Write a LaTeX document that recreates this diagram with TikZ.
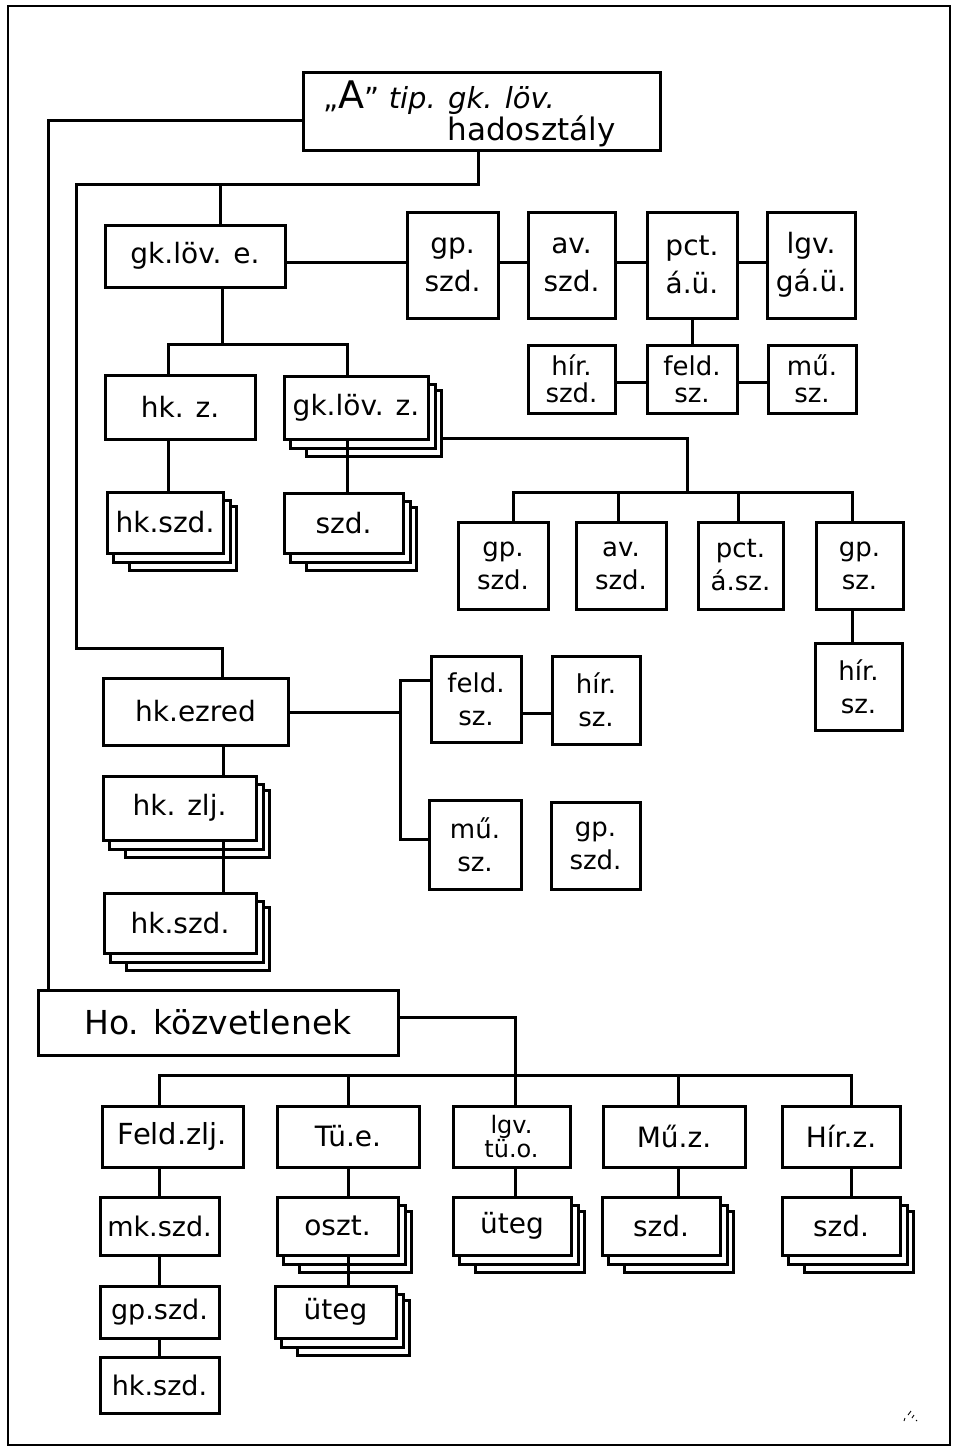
\documentclass[tikz,border=0pt]{standalone}
\usepackage{fontspec}
\setmainfont{DejaVu Sans}
\usetikzlibrary{calc}
\newcommand\hnd{\fontsize{28}{38}\selectfont}
\newcommand\bx[7][]{\node[box,minimum width={(#5)-(#3)},minimum height={(#6)-(#4)},#1] (#2) at ({((#3)+(#5))/2},{((#4)+(#6))/2}) {#7};}
\newcommand\stk[1]{%
 \draw[ln] ($(#1.south west)+(8pt,0pt)$) -- ++(0pt,-8pt) -- ($(#1.south east)+(6pt,-8pt)$) -- ($(#1.north east)+(6pt,-10pt)$) -- ++(-6pt,0pt);
 \draw[ln] ($(#1.south west)+(24pt,-8pt)$) -- ++(0pt,-8pt) -- ($(#1.south east)+(12pt,-16pt)$) -- ($(#1.north east)+(12pt,-16pt)$) -- ++(-6pt,0pt);}
\tikzset{
 ln/.style={line width=3pt, line join=miter},
 box/.style={draw, line width=3pt, inner sep=0pt, fill=white, align=center, font=\hnd},
 tight/.style={font=\fontsize{26}{27}\selectfont},
 mid/.style={font=\fontsize{26}{33}\selectfont},
}
\begin{document}
\begin{tikzpicture}[x=1pt,y=-1pt]
\useasboundingbox (0,0) rectangle (953,1448);
\fill[white] (0,0) rectangle (953,1448);
\draw[line width=2.8pt] (8,6) rectangle (950,1445);

% ---- boxes
\bx{top}{303}{72}{660}{150}{}
\node[anchor=base west, font=\fontsize{29}{34}\selectfont] (t1) at (320,108) {„{\fontsize{38}{38}\selectfont A}” \textit{tip. gk. löv.}};
\node[anchor=base west, font=\fontsize{31}{34}\selectfont] (t2) at (444,140) {hadosztály};

\bx{gklove}{105}{225}{285}{287}{gk.löv. e.}
\bx{gpa}{407}{212}{498}{318}{gp.\\szd.}
\bx{ava}{528}{212}{615}{318}{av.\\szd.}
\bx{pcta}{647}{212}{737}{318}{pct.\\á.ü.}
\bx{lgva}{767}{212}{855}{318}{lgv.\\gá.ü.}
\bx[tight]{hira}{528}{345}{615}{413}{hír.\\szd.}
\bx[tight]{felda}{647}{345}{737}{413}{feld.\\sz.}
\bx[tight]{mua}{768}{345}{856}{413}{mű.\\sz.}

\bx{hkz}{105}{375}{255}{439}{hk. z.}
\bx{gklovz}{284}{376}{428}{439}{gk.löv. z.}
\bx{hkszda}{107}{492}{223}{553}{hk.szd.}
\bx{szda}{284}{493}{403}{553}{szd.}

\bx[mid]{gpb}{458}{522}{548}{609}{gp.\\szd.}
\bx[mid]{avb}{576}{522}{666}{609}{av.\\szd.}
\bx[mid]{pctb}{698}{522}{783}{609}{pct.\\á.sz.}
\bx[mid]{gpc}{816}{522}{903}{609}{gp.\\sz.}
\bx[mid]{hirb}{815}{643}{902}{730}{hír.\\sz.}

\bx{ezred}{103}{678}{288}{745}{hk.ezred}
\bx[mid]{feldb}{431}{656}{521}{742}{feld.\\sz.}
\bx[mid]{hirc}{552}{656}{640}{744}{hír.\\sz.}
\bx[mid]{mub}{429}{800}{521}{889}{mű.\\sz.}
\bx[mid]{gpd}{551}{802}{640}{889}{gp.\\szd.}
\bx{zlj}{103}{776}{256}{840}{hk. zlj.}
\bx{hkszdb}{104}{893}{256}{953}{hk.szd.}

\bx[font=\fontsize{33}{36}\selectfont]{ho}{38}{990}{398}{1055}{Ho. közvetlenek}
\bx[font=\fontsize{29}{34}\selectfont]{feldzlj}{102}{1106}{243}{1167}{Feld.zlj.}
\bx{tue}{277}{1106}{419}{1167}{Tü.e.}
\bx[font=\fontsize{24}{24}\selectfont]{lgvtu}{453}{1106}{570}{1167}{lgv.\\tü.o.}
\bx{muz}{603}{1106}{745}{1167}{Mű.z.}
\bx{hirz}{782}{1106}{900}{1167}{Hír.z.}
\bx[font=\fontsize{27}{34}\selectfont]{mkszd}{100}{1197}{219}{1255}{mk.szd.}
\bx{oszt}{277}{1197}{398}{1255}{oszt.}
\bx{utega}{453}{1197}{571}{1255}{üteg}
\bx{szdb}{602}{1197}{720}{1255}{szd.}
\bx{szdc}{782}{1197}{900}{1255}{szd.}
\bx[font=\fontsize{27}{34}\selectfont]{gpszd}{100}{1286}{219}{1338}{gp.szd.}
\bx{utegb}{275}{1286}{396}{1338}{üteg}
\bx[font=\fontsize{27}{34}\selectfont]{hkszdc}{100}{1357}{219}{1413}{hk.szd.}

% ---- stacks
\stk{gklovz}\stk{hkszda}\stk{szda}\stk{zlj}\stk{hkszdb}
\stk{oszt}\stk{utega}\stk{szdb}\stk{szdc}\stk{utegb}

% ---- connectors
\coordinate (c1) at (48,120);
\draw[ln] (c1 -| top.west) -- (c1) -- (c1 |- ho.north);
\coordinate (c2) at (478,184);
\coordinate (c3) at (76,184);
\coordinate (c4) at (76,648);
\coordinate (c5) at (222,648);
\draw[ln] (c2 |- top.south) -- (c2) -- (c3) -- (c4) -- (c5) -- (c5 |- ezred.north);
\coordinate (c6) at (220,184);
\draw[ln] (c6) -- (c6 |- gklove.north);

\coordinate (r1) at (0,262);
\draw[ln] (gklove.east |- r1) -- (gpa.west |- r1);
\draw[ln] (gpa.east |- r1) -- (ava.west |- r1);
\draw[ln] (ava.east |- r1) -- (pcta.west |- r1);
\draw[ln] (pcta.east |- r1) -- (lgva.west |- r1);
\draw[ln] (pcta.south) -- (felda.north);
\coordinate (r2) at (0,382);
\draw[ln] (hira.east |- r2) -- (felda.west |- r2);
\draw[ln] (felda.east |- r2) -- (mua.west |- r2);

\coordinate (c7) at (222,344);
\draw[ln] (c7 |- gklove.south) -- (c7);
\coordinate (c8) at (168,344);
\coordinate (c9) at (347,344);
\draw[ln] (c8 |- hkz.north) -- (c8) -- (c9) -- (c9 |- gklovz.north);
\draw[ln] (c8 |- hkz.south) -- (c8 |- hkszda.north);
\draw[ln] (c9 |- gklovz.south) -- (c9 |- szda.north);

\coordinate (gkR) at ($(gklovz.east)+(12pt,0pt)$);
\coordinate (c10) at (687,438);
\coordinate (c11) at (687,492);
\draw[ln] (c10 -| gkR) -- (c10) -- (c11);
\coordinate (d1) at (513,492);
\coordinate (d2) at (618,492);
\coordinate (d3) at (738,492);
\coordinate (d4) at (852,492);
\draw[ln] (d1 |- gpb.north) -- (d1) -- (d4) -- (d4 |- gpc.north);
\draw[ln] (d2) -- (d2 |- avb.north);
\draw[ln] (d3) -- (d3 |- pctb.north);
\draw[ln] (d4 |- gpc.south) -- (d4 |- hirb.north);

\coordinate (e1) at (400,712);
\coordinate (e2) at (400,680);
\coordinate (e3) at (400,839);
\draw[ln] (ezred.east |- e1) -- (e1);
\draw[ln] (e2 -| feldb.west) -- (e2) -- (e3) -- (e3 -| mub.west);
\coordinate (e4) at (0,713);
\draw[ln] (feldb.east |- e4) -- (hirc.west |- e4);
\coordinate (z) at (223,0);
\draw[ln] (z |- ezred.south) -- (z |- zlj.north);
\draw[ln] (z |- zlj.south) -- (z |- hkszdb.north);

\coordinate (h1) at (515,1017);
\draw[ln] (ho.east |- h1) -- (h1) -- (h1 |- lgvtu.north);
\coordinate (h3) at (159,1075);
\coordinate (h4) at (851,1075);
\draw[ln] (h3 |- feldzlj.north) -- (h3) -- (h4) -- (h4 |- hirz.north);
\coordinate (h5) at (348,1075);
\coordinate (h6) at (678,1075);
\draw[ln] (h5) -- (h5 |- tue.north);
\draw[ln] (h6) -- (h6 |- muz.north);
\draw[ln] (h3 |- feldzlj.south) -- (h3 |- mkszd.north);
\draw[ln] (h3 |- mkszd.south) -- (h3 |- gpszd.north);
\draw[ln] (h3 |- gpszd.south) -- (h3 |- hkszdc.north);
\draw[ln] (h5 |- tue.south) -- (h5 |- oszt.north);
\draw[ln] (h5 |- oszt.south) -- (h5 |- utegb.north);
\draw[ln] (h1 |- lgvtu.south) -- (h1 |- utega.north);
\draw[ln] (h6 |- muz.south) -- (h6 |- szdb.north);
\draw[ln] (h4 |- hirz.south) -- (h4 |- szdc.north);

% signature mark
\draw[line width=0.9pt] (904,1421) -- (905,1418) (908,1415) -- (911,1411) (912,1418) -- (914,1415) (916,1420) -- (917,1421);
\end{tikzpicture}
\end{document}
